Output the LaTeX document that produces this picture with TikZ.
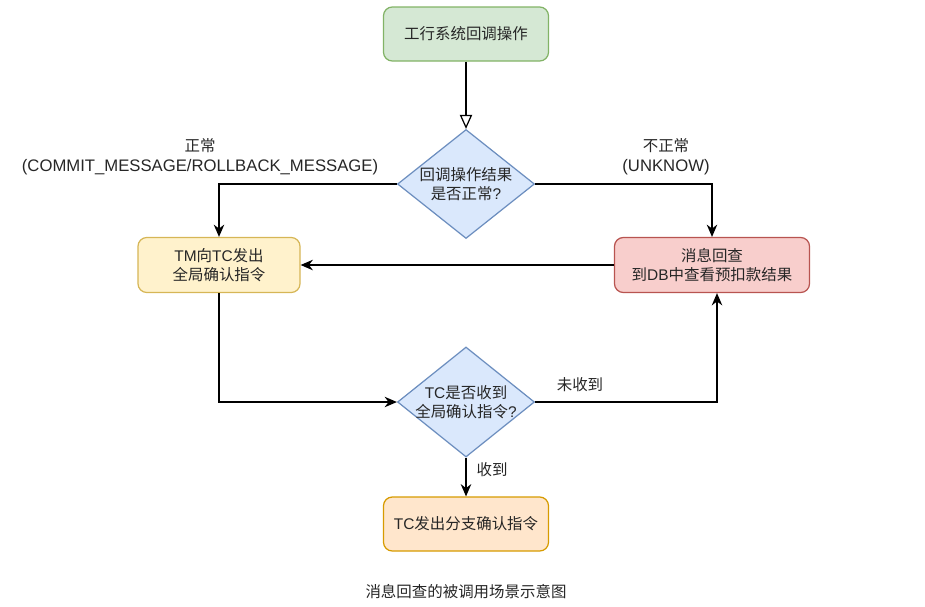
\documentclass[tikz,border=0pt]{standalone}
\usepackage{fontspec}
\setmainfont{Liberation Sans}
\newfontfamily\cjk{Noto Sans CJK SC}
\newcommand{\zh}[1]{{\cjk #1}}
\usetikzlibrary{shapes.geometric,arrows.meta}
\definecolor{gfill}{HTML}{D5E8D4}
\definecolor{gline}{HTML}{82B366}
\definecolor{bfill}{HTML}{DAE8FC}
\definecolor{bline}{HTML}{6C8EBF}
\definecolor{yfill}{HTML}{FFF2CC}
\definecolor{yline}{HTML}{D6B656}
\definecolor{rfill}{HTML}{F8CECC}
\definecolor{rline}{HTML}{B85450}
\definecolor{ofill}{HTML}{FFE6CC}
\definecolor{oline}{HTML}{D79B00}
\definecolor{txt}{HTML}{262626}

\begin{document}
\begin{tikzpicture}[x=0.02cm,y=-0.02cm,line width=0.7pt,
  every node/.style={font=\fontsize{8.8}{11}\selectfont,text=txt,align=center},
  stepbox/.style={rounded corners=5pt,minimum width=#1*0.02cm,minimum height=55*0.02cm,inner sep=0pt},
  decide/.style={diamond,aspect=1.25,draw=bline,fill=bfill,inner sep=-2pt,
    minimum width=137*0.02cm,minimum height=109*0.02cm},
  arr/.style={-{Stealth[length=7pt,width=6pt]}}]
  \useasboundingbox (0,0) rectangle (925,606);
  % boxes
  \node[stepbox=165,draw=gline,fill=gfill,minimum height=54*0.02cm] (start) at (466,34) {\zh{工行系统回调操作}};
  \node[decide] (check) at (466,184) {\zh{回调操作结果}\\\zh{是否正常}?};
  \node[stepbox=162,draw=yline,fill=yfill] (confirm) at (219,265) {TM\zh{向}TC\zh{发出}\\\zh{全局确认指令}};
  \node[stepbox=195,draw=rline,fill=rfill] (lookup) at (712,265) {\zh{消息回查}\\\zh{到}DB\zh{中查看预扣款结果}};
  \node[decide,minimum height=110*0.02cm] (recv) at (466,402) {TC\zh{是否收到}\\\zh{全局确认指令}?};
  \node[stepbox=165,draw=oline,fill=ofill,minimum height=54*0.02cm] (branch) at (466,524) {TC\zh{发出分支确认指令}};
  % labels
  \node[font=\fontsize{9.5}{11.5}\selectfont] (ok) at (200,157) {\zh{\fontsize{8.8}{11.5}\selectfont 正常}\\(COMMIT\_MESSAGE/ROLLBACK\_MESSAGE)};
  \node[font=\fontsize{9.5}{11.5}\selectfont] (nok) at (666,157) {\zh{\fontsize{8.8}{11.5}\selectfont 不正常}\\(UNKNOW)};
  \node (miss) at (580,385) {\zh{未收到}};
  \node (got) at (492,470) {\zh{收到}};
  \node (title) at (466,592) {\zh{消息回查的被调用场景示意图}};
  % connectors
  \draw[-{Triangle[open,length=8pt,width=7pt]}] (start) -- (check);
  \draw[arr] (check.west) -| (confirm.north);
  \draw[arr] (check.east) -| (lookup.north);
  \draw[arr] (lookup.west) -- (confirm.east);
  \draw[arr] (confirm.south) |- (recv.west);
  \draw[arr] (recv.east) -| ([xshift=5*0.02cm]lookup.south);
  \draw[arr] (recv.south) -- (branch.north);
\end{tikzpicture}
\end{document}
